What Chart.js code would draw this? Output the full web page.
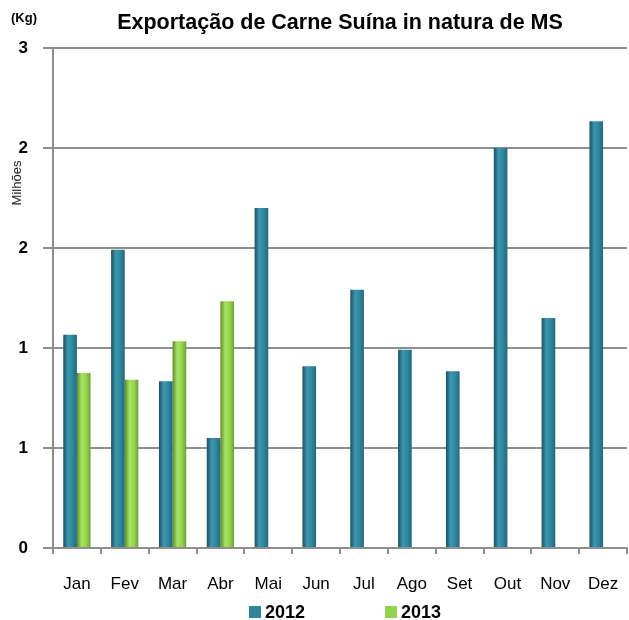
<!DOCTYPE html>
<html>
<head>
<meta charset="utf-8">
<script src="https://cdn.jsdelivr.net/npm/chart.js@4"></script>
<style>
  html, body { margin: 0; padding: 0; background: #fff; }
  #wrap { width: 629px; height: 620px; }
</style>
</head>
<body>
<div id="wrap"><canvas id="chart-1" width="629" height="620"></canvas></div>
<script>
// values in millions of kg
const months = ['Jan', 'Fev', 'Mar', 'Abr', 'Mai', 'Jun', 'Jul', 'Ago', 'Set', 'Out', 'Nov', 'Dez'];
const exp2012 = [1.28, 1.79, 1.00, 0.66, 2.04, 1.09, 1.55, 1.19, 1.06, 2.40, 1.38, 2.56];
const exp2013 = [1.05, 1.01, 1.24, 1.48, null, null, null, null, null, null, null, null];
const seriesNames = ['2012', '2013'];
const titleText = 'Exportação de Carne Suína in natura de MS';
const unitText = '(Kg)';
const axisText = 'Milhões';

const FONT = '"Liberation Sans", Arial, sans-serif';
const gridColor = '#8e8e8e';

const shades = [
    ['#1c4f5e', '#3b97b0', '#2e859c', '#22687b'],
    ['#5c8a26', '#a8e263', '#93d24e', '#6e9f35']
];

function barFill(ctx) {
    const chart = ctx.chart;
    const xs = chart.scales.x;
    const s = shades[ctx.datasetIndex];
    if (!xs || ctx.dataIndex === undefined) return s[2];
    const center = xs.getPixelForValue(ctx.dataIndex);
    const w = xs.width / months.length * 0.57 / 2;
    if (!isFinite(center) || !isFinite(w) || w <= 0) return s[2];
    const left = ctx.datasetIndex === 0 ? center - w : center;
    const g = chart.ctx.createLinearGradient(left, 0, left + w, 0);
    g.addColorStop(0, s[0]);
    g.addColorStop(0.35, s[1]);
    g.addColorStop(0.7, s[2]);
    g.addColorStop(1, s[3]);
    return g;
}

const extraText = {
    id: 'extraText',
    afterDraw(chart) {
        const c = chart.ctx;
        const area = chart.chartArea;
        c.save();
        c.fillStyle = '#000';
        // title
        c.font = 'bold 21.5px ' + FONT;
        c.textAlign = 'center';
        c.textBaseline = 'middle';
        c.fillText(titleText, (area.left + area.right) / 2, 23);
        // unit
        c.font = 'bold 13px ' + FONT;
        c.textAlign = 'left';
        c.fillText(unitText, 11, 18);
        // axis name
        c.save();
        c.translate(17, 183);
        c.rotate(-Math.PI / 2);
        c.font = '13px ' + FONT;
        c.textAlign = 'center';
        c.fillStyle = '#222';
        c.fillText(axisText, 0, 0);
        c.restore();
        // legend
        const items = [{x: 249}, {x: 385}];
        c.font = 'bold 18px ' + FONT;
        c.textAlign = 'left';
        items.forEach((it, i) => {
            c.fillStyle = shades[i][2];
            c.fillRect(it.x, 606, 12, 12);
            c.fillStyle = '#000';
            c.fillText(seriesNames[i], it.x + 16, 613);
        });
        c.restore();
    }
};

const ctx = document.getElementById('chart-1').getContext('2d');
const chart_1 = new Chart(ctx, {
    type: 'bar',
    data: {
        labels: months,
        datasets: [
            {
                label: seriesNames[0],
                data: exp2012,
                backgroundColor: barFill,
                borderWidth: 0,
                categoryPercentage: 0.57,
                barPercentage: 1
            },
            {
                label: seriesNames[1],
                data: exp2013,
                backgroundColor: barFill,
                borderWidth: 0,
                categoryPercentage: 0.57,
                barPercentage: 1
            }
        ]
    },
    options: {
        responsive: false,
        animation: false,
        layout: {
            padding: { top: 48, right: 2, bottom: 0, left: 0 }
        },
        scales: {
            x: {
                afterFit: (scale) => {
                    scale.height = 72;
                    scale.paddingLeft = 0;
                    scale.paddingRight = 0;
                },
                grid: {
                    drawOnChartArea: false,
                    drawTicks: true,
                    tickLength: 6,
                    color: gridColor,
                    lineWidth: 2
                },
                border: { color: gridColor, width: 2 },
                ticks: {
                    color: '#000',
                    padding: 20,
                    font: { family: FONT, size: 17 }
                }
            },
            y: {
                min: 0,
                max: 3,
                afterFit: (scale) => { scale.width = 53; },
                grid: {
                    color: gridColor,
                    lineWidth: 2,
                    tickLength: 10
                },
                border: { color: gridColor, width: 2 },
                ticks: {
                    stepSize: 0.6,
                    color: '#000',
                    padding: 15,
                    font: { family: FONT, size: 17, weight: 'bold' },
                    callback: (v) => Math.round(v).toString()
                }
            }
        },
        plugins: {
            legend: { display: false },
            title: { display: false },
            tooltip: { enabled: false }
        }
    },
    plugins: [extraText]
});
</script>
</body>
</html>
